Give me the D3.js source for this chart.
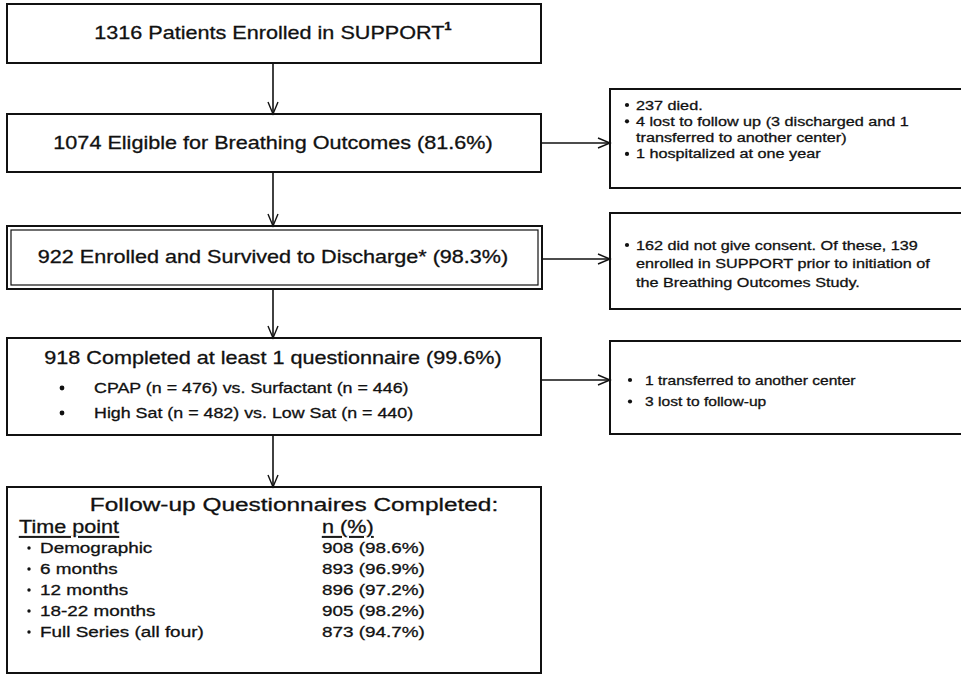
<!DOCTYPE html>
<html>
<head>
<meta charset="utf-8">
<script src="https://cdn.jsdelivr.net/npm/d3@7"></script>
<style>
  html, body { margin: 0; padding: 0; background: #fff; }
  svg { display: block; }
  text { font-family: "Liberation Sans", Arial, sans-serif; fill: #111; stroke: #111; stroke-width: 0.3px; }
</style>
</head>
<body>
<svg id="chart" width="961" height="684"></svg>
<script>
// ---- data ----
const flowCounts = [1316, 1074, 922, 918];
const flowLabels = ["Patients Enrolled in SUPPORT", "Eligible for Breathing Outcomes", "Enrolled and Survived to Discharge*", "Completed at least 1 questionnaire"];
const flowPct = [null, "81.6%", "98.3%", "99.6%"];
const armLines = ["CPAP (n = 476) vs. Surfactant (n = 446)", "High Sat (n = 482) vs. Low Sat (n = 440)"];
const exclusion1 = ["237 died.", "4 lost to follow up (3 discharged and 1", "transferred to another center)", "1 hospitalized at one year"];
const exclusion1Bullet = [true, true, false, true];
const exclusion2 = ["162 did not give consent. Of these, 139", "enrolled in SUPPORT prior to initiation of", "the Breathing Outcomes Study."];
const exclusion2Bullet = [true, false, false];
const exclusion3 = ["1 transferred to another center", "3 lost to follow-up"];
const timePoints = ["Demographic", "6 months", "12 months", "18-22 months", "Full Series (all four)"];
const completedN = [908, 893, 896, 905, 873];
const completedPct = ["98.6%", "96.9%", "97.2%", "98.2%", "94.7%"];

// ---- drawing ----
const svg = d3.select("#chart");
const LX0 = 7, LX1 = 541, CX = 273;
const RX0 = 610, RX1 = 975;

function box(y0, y1, x0 = LX0, x1 = LX1, sw = 2) {
  svg.append("rect").attr("x", x0).attr("y", y0).attr("width", x1 - x0).attr("height", y1 - y0)
    .attr("fill", "none").attr("stroke", "#111").attr("stroke-width", sw);
}
function vArrow(x, y0, y1) {
  svg.append("line").attr("x1", x).attr("x2", x).attr("y1", y0).attr("y2", y1)
    .attr("stroke", "#111").attr("stroke-width", 1.6);
  svg.append("path").attr("d", `M${x - 5},${y1 - 12}L${x},${y1}L${x + 5},${y1 - 12}`)
    .attr("fill", "none").attr("stroke", "#111").attr("stroke-width", 1.4);
}
function hArrow(y, x0, x1) {
  svg.append("line").attr("x1", x0).attr("x2", x1).attr("y1", y).attr("y2", y)
    .attr("stroke", "#111").attr("stroke-width", 1.6);
  svg.append("path").attr("d", `M${x1 - 12},${y - 5}L${x1},${y}L${x1 - 12},${y + 5}`)
    .attr("fill", "none").attr("stroke", "#111").attr("stroke-width", 1.4);
}
// horizontally stretched text (the source scan is wider than it is tall)
function stext(x, y, str, size, sx, anchor = "start") {
  const t = svg.append("text").attr("transform", `translate(${x},${y}) scale(${sx},1)`)
    .attr("text-anchor", anchor).attr("dominant-baseline", "central").attr("font-size", size);
  if (str !== null) t.text(str);
  return t;
}

const yFlow = d3.scaleOrdinal().domain(d3.range(4)).range([33, 143, 257, 358]);
const SX = 1.2;

// Box 1
box(4, 63);
const t1 = stext(CX, yFlow(0), null, 18, SX, "middle");
t1.append("tspan").text(`${flowCounts[0]} ${flowLabels[0]}`);
t1.append("tspan").attr("font-size", 11).attr("font-weight", "bold").attr("dy", -7).text("1");

vArrow(CX, 63, 114);

// Box 2
box(114, 172);
stext(CX, yFlow(1), `${flowCounts[1]} ${flowLabels[1]} (${flowPct[1]})`, 18, SX, "middle");
hArrow(yFlow(1), LX1, RX0);

vArrow(CX, 172, 226);

// Box 3 (double border)
box(226, 289, LX0, LX1 + 1, 2);
box(230, 285, LX0 + 4, LX1 - 3, 1.2);
stext(CX, yFlow(2), `${flowCounts[2]} ${flowLabels[2]} (${flowPct[2]})`, 18, SX, "middle");
hArrow(259, LX1 + 1, RX0);

vArrow(CX, 289, 338);

// Box 4
box(338, 435);
stext(CX, yFlow(3), `${flowCounts[3]} ${flowLabels[3]} (${flowPct[3]})`, 18, SX, "middle");
const armY = d3.scalePoint().domain(armLines).range([388, 413]);
armLines.forEach(s => {
  svg.append("circle").attr("cx", 62).attr("cy", armY(s)).attr("r", 2.4).attr("fill", "#111");
  stext(94, armY(s), s, 15, 1.19);
});
hArrow(380, LX1, RX0);

vArrow(CX, 435, 487);

// Right boxes
function sideBox(y0, y1, lines, bullets, yStart, step, bx, tx, fs) {
  box(y0, y1, RX0, RX1, 2);
  lines.forEach((s, i) => {
    const y = yStart + i * step;
    if (bullets[i]) svg.append("circle").attr("cx", bx).attr("cy", y).attr("r", 2.1).attr("fill", "#111");
    stext(tx, y, s, fs, SX);
  });
}
sideBox(89, 188, exclusion1, exclusion1Bullet, 105, 16.3, 627, 636, 13.5);
sideBox(213, 309, exclusion2, exclusion2Bullet, 245, 18.5, 627, 636, 13.5);
sideBox(341, 434, exclusion3, exclusion3.map(() => true), 380, 21.5, 630, 645, 13);

// Box 5: follow-up table
box(487, 673);
stext(294, 505, "Follow-up Questionnaires Completed:", 18.5, 1.32, "middle");
stext(19, 527, "Time point", 18, SX).attr("text-decoration", "underline");
stext(322, 527, "n (%)", 18, SX).attr("text-decoration", "underline");
const rowY = d3.scalePoint().domain(timePoints).range([548, 632]);
timePoints.forEach((tp, i) => {
  svg.append("circle").attr("cx", 29).attr("cy", rowY(tp)).attr("r", 1.7).attr("fill", "#111");
  stext(40, rowY(tp), tp, 15.5, 1.22);
  stext(322, rowY(tp), `${completedN[i]} (${completedPct[i]})`, 15.5, 1.22);
});
</script>
</body>
</html>
